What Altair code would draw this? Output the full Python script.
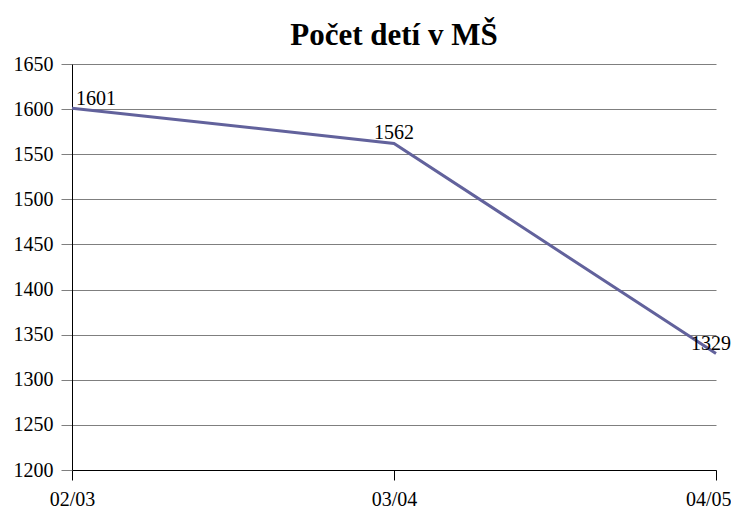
import altair as alt
import pandas as pd

years = ["02/03", "03/04", "04/05"]
counts = [1601, 1562, 1329]

df = pd.DataFrame({"rok": years, "pocet": counts, "label": [str(c) for c in counts]})

SERIF = "Liberation Serif"
LAST = years[-1]

x = alt.X("rok:N", sort=years, title=None,
          scale=alt.Scale(type="point", padding=0),
          axis=alt.Axis(labelAngle=0, labelFontSize=20, labelFont=SERIF,
                        labelColor="black", tickColor="black", tickSize=10,
                        domainColor="black", labelPadding=9, grid=False,
                        labelAlign={"condition": {"test": f"datum.value === '{LAST}'", "value": "right"},
                                    "value": "center"},
                        labelOffset={"condition": {"test": f"datum.value === '{LAST}'", "value": 15},
                                     "value": 0}))
y = alt.Y("pocet:Q", title=None,
          scale=alt.Scale(domain=[1200, 1650], nice=False, zero=False),
          axis=alt.Axis(values=list(range(1200, 1651, 50)), format="d",
                        labelFontSize=20, labelFont=SERIF, labelColor="black",
                        tickColor="#7f7f7f", tickSize=11, domainColor="black",
                        gridColor="#7f7f7f", gridOpacity=1, labelPadding=8))

base = alt.Chart(df).encode(x=x, y=y)
line = base.mark_line(color="#62629c", strokeWidth=3, clip=False)
first = base.transform_filter(alt.datum.rok == years[0]).mark_text(
    align="left", baseline="alphabetic", dx=4, dy=-3, font=SERIF,
    fontSize=20, color="black").encode(text="label:N")
mid = base.transform_filter(alt.datum.rok == years[1]).mark_text(
    align="center", baseline="alphabetic", dy=-4, font=SERIF,
    fontSize=20, color="black").encode(text="label:N")
last = base.transform_filter(alt.datum.rok == LAST).mark_text(
    align="right", baseline="alphabetic", dx=15, dy=-4, font=SERIF,
    fontSize=20, color="black").encode(text="label:N")

chart = alt.layer(line, first, mid, last).properties(
    width=644, height=406,
    title=alt.Title("Počet detí v MŠ", fontSize=31, font=SERIF,
                    fontWeight="bold", color="black", offset=6, dy=4),
    autosize=alt.AutoSizeParams(type="none"),
    padding={"left": 64, "top": 56, "right": 15, "bottom": 38},
).configure(font=SERIF).configure_view(stroke=None)

chart.save("out.html", embed_options={"renderer": "svg", "actions": False})
